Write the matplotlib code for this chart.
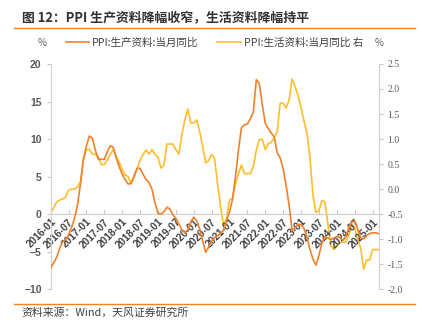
import numpy as np
import matplotlib
matplotlib.use('Agg')
import matplotlib.pyplot as plt

plt.rcParams['font.family'] = ['Noto Sans CJK SC', 'DejaVu Sans']

# monthly, 2016-01 .. 2025-03
months = [f'{y}-{m:02d}' for y in range(2016, 2026) for m in range(1, 13)][:111]

# PPI:生产资料:当月同比 (left axis, %)
ppi_prod = [
    -7.2, -6.5, -5.8, -4.6, -3.7, -3.4, -2.8, -1.8, -0.6, 1.2, 4.0, 7.3,
    9.1, 10.4, 10.1, 8.5, 7.3, 7.3, 7.3, 8.3, 9.1, 8.9, 7.5, 6.3,
    5.3, 4.6, 4.0, 4.1, 5.1, 6.1, 6.1, 5.3, 4.6, 4.2, 3.3, 1.5,
    0.1, 0.0, 0.3, 0.9, 0.7, -0.1, -0.6, -1.3, -2.1, -2.5, -2.1, -1.1,
    -0.4, -0.9, -2.0, -3.6, -5.1, -4.4, -3.6, -3.1, -2.9, -2.6, -2.1, -0.9,
    0.3, 1.9, 5.0, 8.5, 11.5, 11.9, 12.0, 12.7, 13.6, 17.9, 17.4, 14.6,
    12.1, 11.4, 10.8, 10.3, 8.2, 7.5, 6.0, 3.8, 1.2, -2.2, -1.8, -1.4,
    -1.4, -1.9, -3.1, -4.7, -6.0, -6.8, -5.5, -3.9, -3.0, -3.2, -3.4, -3.2,
    -3.0, -3.1, -3.5, -3.1, -1.8, -1.1, -0.9, -2.0, -3.2, -3.3, -2.9, -2.6,
    -2.5, -2.5, -2.6,
]

# PPI:生活资料:当月同比 (right axis, %)
ppi_cons = [
    -0.47, -0.38, -0.26, -0.22, -0.20, -0.16, -0.02, 0.00, 0.00, 0.04, 0.15, 0.60,
    0.79, 0.79, 0.70, 0.69, 0.64, 0.49, 0.49, 0.58, 0.69, 0.79, 0.64, 0.54,
    0.39, 0.28, 0.25, 0.10, 0.24, 0.40, 0.58, 0.69, 0.78, 0.70, 0.79, 0.69,
    0.64, 0.42, 0.48, 0.90, 0.90, 0.90, 0.79, 0.70, 1.08, 1.38, 1.60, 1.32,
    1.32, 1.38, 1.15, 0.85, 0.52, 0.57, 0.69, 0.61, 0.10, -0.35, -0.73, -0.59,
    -0.22, -0.19, 0.10, 0.30, 0.48, 0.31, 0.31, 0.31, 0.45, 0.78, 0.99, 0.99,
    0.79, 0.91, 0.93, 1.03, 1.15, 1.72, 1.72, 1.62, 1.78, 2.20, 2.05, 1.87,
    1.63, 1.36, 1.11, 0.63, -0.13, -0.47, -0.43, -0.23, -0.26, -0.70, -1.13, -1.21,
    -1.13, -1.06, -1.06, -1.06, -0.93, -0.70, -0.77, -1.00, -1.18, -1.60, -1.42, -1.42,
    -1.21, -1.21, -1.21,
]

x = np.arange(len(months))
c_prod = '#F0812D'
c_cons = '#FDBE2C'
grey = '#595959'

fig = plt.figure(figsize=(4.22, 3.35), dpi=100)
ax = fig.add_axes([0.120, 0.137, 0.777, 0.672])
ax2 = ax.twinx()

l1, = ax.plot(x, ppi_prod, color=c_prod, lw=1.2, zorder=3)
l2, = ax2.plot(x, ppi_cons, color=c_cons, lw=1.2, zorder=2)
ax.set_zorder(ax2.get_zorder() + 1)
ax.patch.set_visible(False)

ax.set_xlim(0, len(months) - 1)
ax.set_ylim(-10, 20)
ax.set_yticks(range(-10, 21, 5))
ax2.set_ylim(-2.0, 2.5)
ax2.set_yticks(np.arange(-2.0, 2.51, 0.5))
ax2.set_yticklabels([f'{v:.1f}' for v in np.arange(-2.0, 2.51, 0.5)],
                    family='Liberation Serif', fontsize=7, color=grey)

for a in (ax, ax2):
    a.spines['top'].set_visible(False)
    for s in ('left', 'right', 'bottom'):
        a.spines[s].set_color('#D0D0D0')
        a.spines[s].set_linewidth(0.8)
ax2.spines['bottom'].set_visible(False)
ax2.spines['left'].set_visible(False)
ax.spines['right'].set_visible(False)
ax.spines['bottom'].set_position(('data', 0))

ax.tick_params(axis='y', colors='#C8C8C8', labelcolor=grey, labelsize=7.5, length=3, width=0.8)
ax2.tick_params(axis='y', colors='#C8C8C8', labelcolor=grey, length=3, width=0.8)
for t in ax.get_yticklabels():
    t.set_fontweight('bold')
    t.set_family(['Liberation Sans', 'DejaVu Sans'])

ticks = x[::6]
ax.set_xticks(ticks)
ax.set_xticklabels([months[i] for i in ticks], rotation=45, ha='right',
                   rotation_mode='anchor', fontsize=7.2, fontweight='bold',
                   color='#404040', family=['Liberation Sans', 'DejaVu Sans'])
ax.tick_params(axis='x', colors='#C8C8C8', labelcolor='#404040', length=3,
               width=0.8, direction='in', pad=2)

# title, rules, source
fig.text(0.052, 0.948, '图 12：PPI 生产资料降幅收窄，生活资料降幅持平', fontsize=9.3,
         fontweight='bold', color='#333333', va='center')
fig.add_artist(plt.Line2D([0.033, 0.983], [0.916, 0.916], color='#F0812D', lw=1.0))
fig.add_artist(plt.Line2D([0.033, 0.983], [0.093, 0.093], color='#F0812D', lw=1.0))
fig.text(0.052, 0.066, '资料来源：Wind，天风证券研究所', fontsize=7.8, color='#404040', va='center')

# legend and units
fig.text(0.100, 0.872, '%', fontsize=7, color=grey, ha='center', va='center')
fig.text(0.898, 0.872, '%', fontsize=7, color=grey, ha='center', va='center')
fig.legend([l1, l2], ['PPI:生产资料:当月同比', 'PPI:生活资料:当月同比 右'],
           loc='center', bbox_to_anchor=(0.508, 0.872), ncol=2, frameon=False,
           fontsize=7.6, handlelength=2.2, handletextpad=0.3, columnspacing=1.8,
           labelcolor='#404040')

fig.savefig('out.png', dpi=100)
